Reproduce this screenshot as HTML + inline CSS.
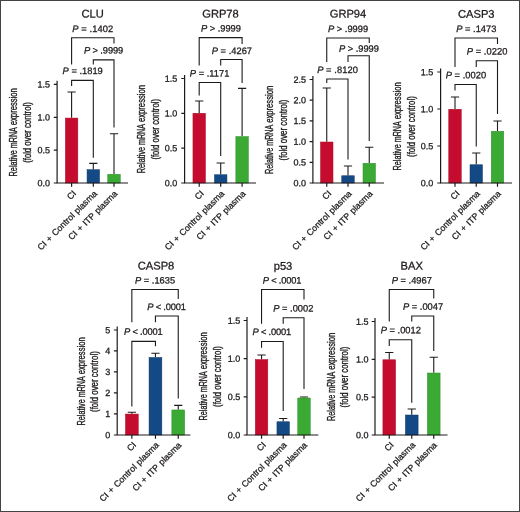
<!DOCTYPE html>
<html><head><meta charset="utf-8"><title>Figure</title>
<style>
html,body{margin:0;padding:0;background:#fff;}
body{width:520px;height:512px;overflow:hidden;position:relative;}
svg{position:absolute;left:0;top:0;display:block;}
text{font-family:"Liberation Sans",sans-serif;fill:#1e1a1b;}
.a{fill:none;stroke:#1e1a1b;stroke-width:1.2;stroke-linecap:butt;}
.b{fill:none;stroke:#1e1a1b;stroke-width:1.1;stroke-linejoin:miter;}
.e{fill:none;stroke:#1e1a1b;stroke-width:1.1;}
.y text{stroke:#1e1a1b;stroke-width:0.35;}
text{stroke:#1e1a1b;stroke-width:0.27;}
svg{will-change:transform;}
</style></head>
<body>
<svg width="520" height="512" viewBox="0 0 520 512">
<rect x="0" y="0" width="520" height="512" fill="#ffffff"/>
<g>
<text transform="rotate(0.03 92.6 17.6)" x="92.6" y="17.6" font-size="11.15" text-anchor="middle">CLU</text>
<path d="M71.6 117.8V92M67.5 92H75.7" class="e"/>
<path d="M93.3 169.4V163.4M89.2 163.4H97.4" class="e"/>
<path d="M114 174V133.8M109.9 133.8H118.1" class="e"/>
<rect x="65.35" y="118.05" width="12.5" height="64.95" fill="#c60c2e" stroke="#a80f28" stroke-width="0.5"/>
<rect x="87.05" y="169.65" width="12.5" height="13.35" fill="#134a86" stroke="#123a66" stroke-width="0.5"/>
<rect x="107.75" y="174.25" width="12.5" height="8.75" fill="#3aaa35" stroke="#2f8f2b" stroke-width="0.5"/>
<path d="M57.1 80.7V183H128" class="a"/>
<path d="M53.8 84.45H57.1M53.8 117.3H57.1M53.8 150.15H57.1M53.8 183H57.1M71.6 183V186.8M93.3 183V186.8M114 183V186.8" class="a"/>
<text transform="rotate(0.03 49.9 87.6)" x="49.9" y="87.6" font-size="9" text-anchor="end">1.5</text>
<text transform="rotate(0.03 49.9 120.45)" x="49.9" y="120.45" font-size="9" text-anchor="end">1.0</text>
<text transform="rotate(0.03 49.9 153.3)" x="49.9" y="153.3" font-size="9" text-anchor="end">0.5</text>
<text transform="rotate(0.03 49.9 186.15)" x="49.9" y="186.15" font-size="9" text-anchor="end">0.0</text>
<g transform="translate(16.9 131.9) rotate(-90)" font-size="10.0" class="y">
<text x="-44.5" y="0" textLength="26.3" lengthAdjust="spacingAndGlyphs">Relative</text>
<text x="-16.3" y="0" textLength="21" lengthAdjust="spacingAndGlyphs">mRNA</text>
<text x="6.7" y="0" textLength="37" lengthAdjust="spacingAndGlyphs">expression</text>
</g>
<g transform="translate(30.6 131.9) rotate(-90)" font-size="10.0" class="y">
<text x="-30.9" y="0" textLength="14.9" lengthAdjust="spacingAndGlyphs">(fold</text>
<text x="-13.75" y="0" textLength="15.4" lengthAdjust="spacingAndGlyphs">over</text>
<text x="3.85" y="0" textLength="25.9" lengthAdjust="spacingAndGlyphs">control)</text>
</g>
<text transform="translate(76.8 194) rotate(-45)" font-size="8.8" word-spacing="0.7" text-anchor="end">CI</text>
<text transform="translate(97.6 194.2) rotate(-45)" font-size="8.8" word-spacing="0.7" text-anchor="end">CI + Control plasma</text>
<text transform="translate(118 194.3) rotate(-45)" font-size="8.8" word-spacing="0.7" text-anchor="end">CI + ITP plasma</text>
<path d="M71.6 64.4V37.8H114V43.5" class="b"/>
<path d="M93.3 64.4V59.9H114V127.5" class="b"/>
<path d="M71.6 86V80.4H93.3V157.7" class="b"/>
<text transform="rotate(0.03 92.75 31.9)" x="92.75" y="31.9" font-size="9.3" text-anchor="middle" textLength="40.9" lengthAdjust="spacing"><tspan font-style="italic">P</tspan> = .1402</text>
<text transform="rotate(0.03 103.6 53.5)" x="103.6" y="53.5" font-size="9.3" text-anchor="middle" textLength="39.3" lengthAdjust="spacing"><tspan font-style="italic">P</tspan> &gt; .9999</text>
<text transform="rotate(0.03 82.7 74)" x="82.7" y="74" font-size="9.3" text-anchor="middle" textLength="40.2" lengthAdjust="spacing"><tspan font-style="italic">P</tspan> = .1819</text>
</g>
<g>
<text transform="rotate(0.03 220.5 17.6)" x="220.5" y="17.6" font-size="11.15" text-anchor="middle">GRP78</text>
<path d="M199.2 113V101M195.1 101H203.3" class="e"/>
<path d="M220.7 174.5V163M216.6 163H224.8" class="e"/>
<path d="M242.1 136.3V88.4M238 88.4H246.2" class="e"/>
<rect x="192.95" y="113.25" width="12.5" height="69.75" fill="#c60c2e" stroke="#a80f28" stroke-width="0.5"/>
<rect x="214.45" y="174.75" width="12.5" height="8.25" fill="#134a86" stroke="#123a66" stroke-width="0.5"/>
<rect x="235.85" y="136.55" width="12.5" height="46.45" fill="#3aaa35" stroke="#2f8f2b" stroke-width="0.5"/>
<path d="M184.6 75V183H256" class="a"/>
<path d="M181.3 78.5H184.6M181.3 113.3H184.6M181.3 148.2H184.6M181.3 183H184.6M199.2 183V186.8M220.7 183V186.8M242.1 183V186.8" class="a"/>
<text transform="rotate(0.03 177.3 81.65)" x="177.3" y="81.65" font-size="9" text-anchor="end">1.5</text>
<text transform="rotate(0.03 177.3 116.45)" x="177.3" y="116.45" font-size="9" text-anchor="end">1.0</text>
<text transform="rotate(0.03 177.3 151.35)" x="177.3" y="151.35" font-size="9" text-anchor="end">0.5</text>
<text transform="rotate(0.03 177.3 186.15)" x="177.3" y="186.15" font-size="9" text-anchor="end">0.0</text>
<g transform="translate(145.3 128.7) rotate(-90)" font-size="10.0" class="y">
<text x="-44.5" y="0" textLength="26.3" lengthAdjust="spacingAndGlyphs">Relative</text>
<text x="-16.3" y="0" textLength="21" lengthAdjust="spacingAndGlyphs">mRNA</text>
<text x="6.7" y="0" textLength="37" lengthAdjust="spacingAndGlyphs">expression</text>
</g>
<g transform="translate(159 128.7) rotate(-90)" font-size="10.0" class="y">
<text x="-30.9" y="0" textLength="14.9" lengthAdjust="spacingAndGlyphs">(fold</text>
<text x="-13.75" y="0" textLength="15.4" lengthAdjust="spacingAndGlyphs">over</text>
<text x="3.85" y="0" textLength="25.9" lengthAdjust="spacingAndGlyphs">control)</text>
</g>
<text transform="translate(204.4 194) rotate(-45)" font-size="8.8" word-spacing="0.7" text-anchor="end">CI</text>
<text transform="translate(225 194.2) rotate(-45)" font-size="8.8" word-spacing="0.7" text-anchor="end">CI + Control plasma</text>
<text transform="translate(246.1 194.3) rotate(-45)" font-size="8.8" word-spacing="0.7" text-anchor="end">CI + ITP plasma</text>
<path d="M199.2 65.5V37.6H242.1V44" class="b"/>
<path d="M220.7 65.5V59.5H242.1V83" class="b"/>
<path d="M199.2 95.5V82.5H220.7V156" class="b"/>
<text transform="rotate(0.03 220.9 31.5)" x="220.9" y="31.5" font-size="9.3" text-anchor="middle" textLength="40" lengthAdjust="spacing"><tspan font-style="italic">P</tspan> &gt; .9999</text>
<text transform="rotate(0.03 231.9 54)" x="231.9" y="54" font-size="9.3" text-anchor="middle" textLength="40.2" lengthAdjust="spacing"><tspan font-style="italic">P</tspan> = .4267</text>
<text transform="rotate(0.03 209.6 76.5)" x="209.6" y="76.5" font-size="9.3" text-anchor="middle" textLength="39.5" lengthAdjust="spacing"><tspan font-style="italic">P</tspan> = .1171</text>
</g>
<g>
<text transform="rotate(0.03 348 17.6)" x="348" y="17.6" font-size="11.15" text-anchor="middle">GRP94</text>
<path d="M326.75 141.75V88M322.65 88H330.85" class="e"/>
<path d="M348 175.5V166M343.9 166H352.1" class="e"/>
<path d="M369.25 163V147.25M365.15 147.25H373.35" class="e"/>
<rect x="320.5" y="142" width="12.5" height="41" fill="#c60c2e" stroke="#a80f28" stroke-width="0.5"/>
<rect x="341.75" y="175.75" width="12.5" height="7.25" fill="#134a86" stroke="#123a66" stroke-width="0.5"/>
<rect x="363" y="163.25" width="12.5" height="19.75" fill="#3aaa35" stroke="#2f8f2b" stroke-width="0.5"/>
<path d="M312.9 76V183H384" class="a"/>
<path d="M309.6 79.5H312.9M309.6 100.2H312.9M309.6 120.9H312.9M309.6 141.6H312.9M309.6 162.3H312.9M309.6 183H312.9M326.75 183V186.8M348 183V186.8M369.25 183V186.8" class="a"/>
<text transform="rotate(0.03 306 82.65)" x="306" y="82.65" font-size="9" text-anchor="end">2.5</text>
<text transform="rotate(0.03 306 103.35)" x="306" y="103.35" font-size="9" text-anchor="end">2.0</text>
<text transform="rotate(0.03 306 124.05)" x="306" y="124.05" font-size="9" text-anchor="end">1.5</text>
<text transform="rotate(0.03 306 144.75)" x="306" y="144.75" font-size="9" text-anchor="end">1.0</text>
<text transform="rotate(0.03 306 165.45)" x="306" y="165.45" font-size="9" text-anchor="end">0.5</text>
<text transform="rotate(0.03 306 186.15)" x="306" y="186.15" font-size="9" text-anchor="end">0.0</text>
<g transform="translate(273 129.5) rotate(-90)" font-size="10.0" class="y">
<text x="-44.5" y="0" textLength="26.3" lengthAdjust="spacingAndGlyphs">Relative</text>
<text x="-16.3" y="0" textLength="21" lengthAdjust="spacingAndGlyphs">mRNA</text>
<text x="6.7" y="0" textLength="37" lengthAdjust="spacingAndGlyphs">expression</text>
</g>
<g transform="translate(286.8 129.5) rotate(-90)" font-size="10.0" class="y">
<text x="-30.9" y="0" textLength="14.9" lengthAdjust="spacingAndGlyphs">(fold</text>
<text x="-13.75" y="0" textLength="15.4" lengthAdjust="spacingAndGlyphs">over</text>
<text x="3.85" y="0" textLength="25.9" lengthAdjust="spacingAndGlyphs">control)</text>
</g>
<text transform="translate(331.95 194) rotate(-45)" font-size="8.8" word-spacing="0.7" text-anchor="end">CI</text>
<text transform="translate(352.3 194.2) rotate(-45)" font-size="8.8" word-spacing="0.7" text-anchor="end">CI + Control plasma</text>
<text transform="translate(373.25 194.3) rotate(-45)" font-size="8.8" word-spacing="0.7" text-anchor="end">CI + ITP plasma</text>
<path d="M326.75 62V38H369.25V43" class="b"/>
<path d="M348 62V55.8H369.25V141" class="b"/>
<path d="M326.75 83V79H348V159.5" class="b"/>
<text transform="rotate(0.03 348.1 32)" x="348.1" y="32" font-size="9.3" text-anchor="middle" textLength="40" lengthAdjust="spacing"><tspan font-style="italic">P</tspan> &gt; .9999</text>
<text transform="rotate(0.03 358.9 51.8)" x="358.9" y="51.8" font-size="9.3" text-anchor="middle" textLength="40" lengthAdjust="spacing"><tspan font-style="italic">P</tspan> &gt; .9999</text>
<text transform="rotate(0.03 337.5 73)" x="337.5" y="73" font-size="9.3" text-anchor="middle" textLength="40.6" lengthAdjust="spacing"><tspan font-style="italic">P</tspan> = .8120</text>
</g>
<g>
<text transform="rotate(0.03 476.25 17.8)" x="476.25" y="17.8" font-size="11.15" text-anchor="middle">CASP3</text>
<path d="M455 109V97M450.9 97H459.1" class="e"/>
<path d="M476.25 164.5V153M472.15 153H480.35" class="e"/>
<path d="M497.5 131V121M493.4 121H501.6" class="e"/>
<rect x="448.75" y="109.25" width="12.5" height="73.75" fill="#c60c2e" stroke="#a80f28" stroke-width="0.5"/>
<rect x="470" y="164.75" width="12.5" height="18.25" fill="#134a86" stroke="#123a66" stroke-width="0.5"/>
<rect x="491.25" y="131.25" width="12.5" height="51.75" fill="#3aaa35" stroke="#2f8f2b" stroke-width="0.5"/>
<path d="M440.6 68.5V183H512" class="a"/>
<path d="M437.3 72H440.6M437.3 109H440.6M437.3 146H440.6M437.3 183H440.6M455 183V186.8M476.25 183V186.8M497.5 183V186.8" class="a"/>
<text transform="rotate(0.03 433.3 75.15)" x="433.3" y="75.15" font-size="9" text-anchor="end">1.5</text>
<text transform="rotate(0.03 433.3 112.15)" x="433.3" y="112.15" font-size="9" text-anchor="end">1.0</text>
<text transform="rotate(0.03 433.3 149.15)" x="433.3" y="149.15" font-size="9" text-anchor="end">0.5</text>
<text transform="rotate(0.03 433.3 186.15)" x="433.3" y="186.15" font-size="9" text-anchor="end">0.0</text>
<g transform="translate(400.9 126) rotate(-90)" font-size="10.0" class="y">
<text x="-44.5" y="0" textLength="26.3" lengthAdjust="spacingAndGlyphs">Relative</text>
<text x="-16.3" y="0" textLength="21" lengthAdjust="spacingAndGlyphs">mRNA</text>
<text x="6.7" y="0" textLength="37" lengthAdjust="spacingAndGlyphs">expression</text>
</g>
<g transform="translate(414.6 126) rotate(-90)" font-size="10.0" class="y">
<text x="-30.9" y="0" textLength="14.9" lengthAdjust="spacingAndGlyphs">(fold</text>
<text x="-13.75" y="0" textLength="15.4" lengthAdjust="spacingAndGlyphs">over</text>
<text x="3.85" y="0" textLength="25.9" lengthAdjust="spacingAndGlyphs">control)</text>
</g>
<text transform="translate(460.2 194) rotate(-45)" font-size="8.8" word-spacing="0.7" text-anchor="end">CI</text>
<text transform="translate(480.55 194.2) rotate(-45)" font-size="8.8" word-spacing="0.7" text-anchor="end">CI + Control plasma</text>
<text transform="translate(501.5 194.3) rotate(-45)" font-size="8.8" word-spacing="0.7" text-anchor="end">CI + ITP plasma</text>
<path d="M455 67V38H497.5V44" class="b"/>
<path d="M476.25 67V60.75H497.5V114" class="b"/>
<path d="M455 90.5V84.5H476.25V146.5" class="b"/>
<text transform="rotate(0.03 476.25 32)" x="476.25" y="32" font-size="9.3" text-anchor="middle" textLength="40.2" lengthAdjust="spacing"><tspan font-style="italic">P</tspan> = .1473</text>
<text transform="rotate(0.03 487.1 54.5)" x="487.1" y="54.5" font-size="9.3" text-anchor="middle" textLength="40.7" lengthAdjust="spacing"><tspan font-style="italic">P</tspan> = .0220</text>
<text transform="rotate(0.03 465.9 78.3)" x="465.9" y="78.3" font-size="9.3" text-anchor="middle" textLength="40.5" lengthAdjust="spacing"><tspan font-style="italic">P</tspan> = .0020</text>
</g>
<g>
<text transform="rotate(0.03 156 269.5)" x="156" y="269.5" font-size="11.15" text-anchor="middle">CASP8</text>
<path d="M131.85 413.8V412.3M127.75 412.3H135.95" class="e"/>
<path d="M155.45 357.2V353.3M151.35 353.3H159.55" class="e"/>
<path d="M178.25 409.7V405.4M174.15 405.4H182.35" class="e"/>
<rect x="125.45" y="414.05" width="12.8" height="20.95" fill="#c60c2e" stroke="#a80f28" stroke-width="0.5"/>
<rect x="149.05" y="357.45" width="12.8" height="77.55" fill="#134a86" stroke="#123a66" stroke-width="0.5"/>
<rect x="171.85" y="409.95" width="12.8" height="25.05" fill="#3aaa35" stroke="#2f8f2b" stroke-width="0.5"/>
<path d="M117.2 326.5V435H190.4" class="a"/>
<path d="M113.9 330H117.2M113.9 350.9H117.2M113.9 371.9H117.2M113.9 392.9H117.2M113.9 413.9H117.2M113.9 435H117.2M131.85 435V438.8M155.45 435V438.8M178.25 435V438.8" class="a"/>
<text transform="rotate(0.03 110.2 333.15)" x="110.2" y="333.15" font-size="9" text-anchor="end">5</text>
<text transform="rotate(0.03 110.2 354.05)" x="110.2" y="354.05" font-size="9" text-anchor="end">4</text>
<text transform="rotate(0.03 110.2 375.05)" x="110.2" y="375.05" font-size="9" text-anchor="end">3</text>
<text transform="rotate(0.03 110.2 396.05)" x="110.2" y="396.05" font-size="9" text-anchor="end">2</text>
<text transform="rotate(0.03 110.2 417.05)" x="110.2" y="417.05" font-size="9" text-anchor="end">1</text>
<text transform="rotate(0.03 110.2 438.15)" x="110.2" y="438.15" font-size="9" text-anchor="end">0</text>
<g transform="translate(85.3 381) rotate(-90)" font-size="10.0" class="y">
<text x="-44.5" y="0" textLength="26.3" lengthAdjust="spacingAndGlyphs">Relative</text>
<text x="-16.3" y="0" textLength="21" lengthAdjust="spacingAndGlyphs">mRNA</text>
<text x="6.7" y="0" textLength="37" lengthAdjust="spacingAndGlyphs">expression</text>
</g>
<g transform="translate(98.3 381) rotate(-90)" font-size="10.0" class="y">
<text x="-30.9" y="0" textLength="14.9" lengthAdjust="spacingAndGlyphs">(fold</text>
<text x="-13.75" y="0" textLength="15.4" lengthAdjust="spacingAndGlyphs">over</text>
<text x="3.85" y="0" textLength="25.9" lengthAdjust="spacingAndGlyphs">control)</text>
</g>
<text transform="translate(136.85 445.4) rotate(-45)" font-size="8.8" word-spacing="0.7" text-anchor="end">CI</text>
<text transform="translate(159.55 445.6) rotate(-45)" font-size="8.8" word-spacing="0.7" text-anchor="end">CI + Control plasma</text>
<text transform="translate(182.05 445.7) rotate(-45)" font-size="8.8" word-spacing="0.7" text-anchor="end">CI + ITP plasma</text>
<path d="M131.85 322.3V289.5H178.25V299" class="b"/>
<path d="M155.45 322.3V316H178.25V398.6" class="b"/>
<path d="M131.85 406.4V341.4H155.45V346.25" class="b"/>
<text transform="rotate(0.03 155 283.5)" x="155" y="283.5" font-size="9.3" text-anchor="middle" textLength="40.2" lengthAdjust="spacing"><tspan font-style="italic">P</tspan> = .1635</text>
<text transform="rotate(0.03 166.6 310)" x="166.6" y="310" font-size="9.3" text-anchor="middle" textLength="38.6" lengthAdjust="spacing"><tspan font-style="italic">P</tspan> &lt; .0001</text>
<text transform="rotate(0.03 143.3 334.7)" x="143.3" y="334.7" font-size="9.3" text-anchor="middle" textLength="38.6" lengthAdjust="spacing"><tspan font-style="italic">P</tspan> &lt; .0001</text>
</g>
<g>
<text transform="rotate(0.03 283 269.7)" x="283" y="269.7" font-size="11.15" text-anchor="middle">p53</text>
<path d="M261.55 359.25V355M257.45 355H265.65" class="e"/>
<path d="M283.2 421.5V418.5M279.1 418.5H287.3" class="e"/>
<path d="M304 397.75V397M299.9 397H308.1" class="e"/>
<rect x="255.3" y="359.5" width="12.5" height="75.5" fill="#c60c2e" stroke="#a80f28" stroke-width="0.5"/>
<rect x="276.95" y="421.75" width="12.5" height="13.25" fill="#134a86" stroke="#123a66" stroke-width="0.5"/>
<rect x="297.75" y="398" width="12.5" height="37" fill="#3aaa35" stroke="#2f8f2b" stroke-width="0.5"/>
<path d="M247 317V435H318.3" class="a"/>
<path d="M243.7 320.5H247M243.7 358.7H247M243.7 396.8H247M243.7 435H247M261.55 435V438.8M283.2 435V438.8M304 435V438.8" class="a"/>
<text transform="rotate(0.03 240.2 323.65)" x="240.2" y="323.65" font-size="9" text-anchor="end">1.5</text>
<text transform="rotate(0.03 240.2 361.85)" x="240.2" y="361.85" font-size="9" text-anchor="end">1.0</text>
<text transform="rotate(0.03 240.2 399.95)" x="240.2" y="399.95" font-size="9" text-anchor="end">0.5</text>
<text transform="rotate(0.03 240.2 438.15)" x="240.2" y="438.15" font-size="9" text-anchor="end">0.0</text>
<g transform="translate(206.5 376) rotate(-90)" font-size="10.0" class="y">
<text x="-44.5" y="0" textLength="26.3" lengthAdjust="spacingAndGlyphs">Relative</text>
<text x="-16.3" y="0" textLength="21" lengthAdjust="spacingAndGlyphs">mRNA</text>
<text x="6.7" y="0" textLength="37" lengthAdjust="spacingAndGlyphs">expression</text>
</g>
<g transform="translate(220.5 376) rotate(-90)" font-size="10.0" class="y">
<text x="-30.9" y="0" textLength="14.9" lengthAdjust="spacingAndGlyphs">(fold</text>
<text x="-13.75" y="0" textLength="15.4" lengthAdjust="spacingAndGlyphs">over</text>
<text x="3.85" y="0" textLength="25.9" lengthAdjust="spacingAndGlyphs">control)</text>
</g>
<text transform="translate(266.55 445.4) rotate(-45)" font-size="8.8" word-spacing="0.7" text-anchor="end">CI</text>
<text transform="translate(287.3 445.6) rotate(-45)" font-size="8.8" word-spacing="0.7" text-anchor="end">CI + Control plasma</text>
<text transform="translate(307.8 445.7) rotate(-45)" font-size="8.8" word-spacing="0.7" text-anchor="end">CI + ITP plasma</text>
<path d="M261.55 323.7V289.5H304V299.5" class="b"/>
<path d="M283.2 323.7V317.75H304V389" class="b"/>
<path d="M261.55 347.75V341.5H283.2V411" class="b"/>
<text transform="rotate(0.03 282.1 283.5)" x="282.1" y="283.5" font-size="9.3" text-anchor="middle" textLength="38.7" lengthAdjust="spacing"><tspan font-style="italic">P</tspan> &lt; .0001</text>
<text transform="rotate(0.03 293.25 311.5)" x="293.25" y="311.5" font-size="9.3" text-anchor="middle" textLength="40.2" lengthAdjust="spacing"><tspan font-style="italic">P</tspan> = .0002</text>
<text transform="rotate(0.03 271.8 335)" x="271.8" y="335" font-size="9.3" text-anchor="middle" textLength="38.6" lengthAdjust="spacing"><tspan font-style="italic">P</tspan> &lt; .0001</text>
</g>
<g>
<text transform="rotate(0.03 411.75 269.6)" x="411.75" y="269.6" font-size="11.15" text-anchor="middle">BAX</text>
<path d="M389.25 359.5V352.5M385.15 352.5H393.35" class="e"/>
<path d="M411.75 414.75V409M407.65 409H415.85" class="e"/>
<path d="M433.75 372.75V357.25M429.65 357.25H437.85" class="e"/>
<rect x="382.9" y="359.75" width="12.7" height="75.25" fill="#c60c2e" stroke="#a80f28" stroke-width="0.5"/>
<rect x="405.4" y="415" width="12.7" height="20" fill="#134a86" stroke="#123a66" stroke-width="0.5"/>
<rect x="427.4" y="373" width="12.7" height="62" fill="#3aaa35" stroke="#2f8f2b" stroke-width="0.5"/>
<path d="M375 318V435H447.5" class="a"/>
<path d="M371.7 321.5H375M371.7 359.3H375M371.7 397.2H375M371.7 435H375M389.25 435V438.8M411.75 435V438.8M433.75 435V438.8" class="a"/>
<text transform="rotate(0.03 368.4 324.65)" x="368.4" y="324.65" font-size="9" text-anchor="end">1.5</text>
<text transform="rotate(0.03 368.4 362.45)" x="368.4" y="362.45" font-size="9" text-anchor="end">1.0</text>
<text transform="rotate(0.03 368.4 400.35)" x="368.4" y="400.35" font-size="9" text-anchor="end">0.5</text>
<text transform="rotate(0.03 368.4 438.15)" x="368.4" y="438.15" font-size="9" text-anchor="end">0.0</text>
<g transform="translate(334.7 376.5) rotate(-90)" font-size="10.0" class="y">
<text x="-44.5" y="0" textLength="26.3" lengthAdjust="spacingAndGlyphs">Relative</text>
<text x="-16.3" y="0" textLength="21" lengthAdjust="spacingAndGlyphs">mRNA</text>
<text x="6.7" y="0" textLength="37" lengthAdjust="spacingAndGlyphs">expression</text>
</g>
<g transform="translate(348.4 376.5) rotate(-90)" font-size="10.0" class="y">
<text x="-30.9" y="0" textLength="14.9" lengthAdjust="spacingAndGlyphs">(fold</text>
<text x="-13.75" y="0" textLength="15.4" lengthAdjust="spacingAndGlyphs">over</text>
<text x="3.85" y="0" textLength="25.9" lengthAdjust="spacingAndGlyphs">control)</text>
</g>
<text transform="translate(394.25 445.4) rotate(-45)" font-size="8.8" word-spacing="0.7" text-anchor="end">CI</text>
<text transform="translate(415.85 445.6) rotate(-45)" font-size="8.8" word-spacing="0.7" text-anchor="end">CI + Control plasma</text>
<text transform="translate(437.55 445.7) rotate(-45)" font-size="8.8" word-spacing="0.7" text-anchor="end">CI + ITP plasma</text>
<path d="M389.25 321.5V289.5H433.75V298.5" class="b"/>
<path d="M411.75 321.5V316H433.75V351" class="b"/>
<path d="M389.25 346V339.75H411.75V402.75" class="b"/>
<text transform="rotate(0.03 411.75 283.5)" x="411.75" y="283.5" font-size="9.3" text-anchor="middle" textLength="40.2" lengthAdjust="spacing"><tspan font-style="italic">P</tspan> = .4967</text>
<text transform="rotate(0.03 423 309.8)" x="423" y="309.8" font-size="9.3" text-anchor="middle" textLength="40.2" lengthAdjust="spacing"><tspan font-style="italic">P</tspan> = .0047</text>
<text transform="rotate(0.03 400.75 333.3)" x="400.75" y="333.3" font-size="9.3" text-anchor="middle" textLength="40.2" lengthAdjust="spacing"><tspan font-style="italic">P</tspan> = .0012</text>
</g>
<path d="M0.5 0V512M0 0.5H520M519.5 0V512M0 511.5H520" fill="none" stroke="#444" stroke-width="1"/>
</svg>
</body></html>
